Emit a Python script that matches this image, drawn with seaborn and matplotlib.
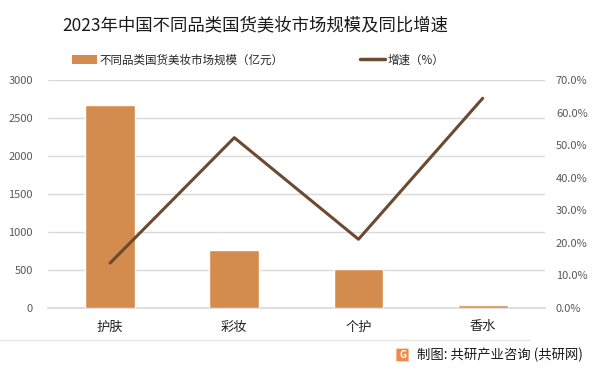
import matplotlib
matplotlib.use("Agg")
import matplotlib.pyplot as plt
import seaborn as sns
import pandas as pd
from matplotlib.lines import Line2D
from matplotlib.patches import Patch, FancyBboxPatch

categories = ["护肤", "彩妆", "个护", "香水"]
market_size = [2670, 763, 513, 40]
growth = [13.8, 52.3, 21.1, 64.4]
left_ticks = [0, 500, 1000, 1500, 2000, 2500, 3000]
right_ticks = [0, 10, 20, 30, 40, 50, 60, 70]

title = "2023年中国不同品类国货美妆市场规模及同比增速"
bar_label = "不同品类国货美妆市场规模（亿元）"
line_label = "增速（%）"
source = "制图: 共研产业咨询 (共研网)"

sns.set_theme(style="white")
plt.rcParams["font.family"] = ["Noto Sans CJK SC", "DejaVu Sans"]

bar_color = "#D48C4E"
line_color = "#6B4A2F"
grid_color = "#D9D9D9"
tick_color = "#595959"

df = pd.DataFrame({"cat": categories, "size": market_size, "growth": growth})

fig = plt.figure(figsize=(6, 3.74), dpi=100)
ax = fig.add_axes([0.08, 0.1765, 0.828, 0.6095])

sns.barplot(data=df, x="cat", y="size", ax=ax, color=bar_color, width=0.4,
            saturation=1, zorder=3)
ax.set_ylim(0, 3000)
ax.set_yticks(left_ticks)
ax.set_yticklabels([str(t) for t in left_ticks])
ax.set_xlim(-0.5, 3.5)
ax.grid(axis="y", color=grid_color, linewidth=1, zorder=0)
ax.set_axisbelow(True)
for s in ["top", "right", "left"]:
    ax.spines[s].set_visible(False)
ax.spines["bottom"].set_color(grid_color)
ax.set_xlabel("")
ax.set_ylabel("")
ax.tick_params(axis="y", length=0, labelsize=8, labelcolor=tick_color, pad=11)
ax.tick_params(axis="x", length=0, labelsize=9.5, labelcolor="#222222", pad=9)

ax2 = ax.twinx()
sns.lineplot(x=list(range(len(categories))), y=growth, ax=ax2, color=line_color,
             linewidth=2.2, sort=False, zorder=4)
ax2.set_ylim(0, 70)
ax2.set_yticks(right_ticks)
ax2.set_yticklabels([f"{t:.1f}%" for t in right_ticks])
ax2.tick_params(axis="y", length=0, labelsize=8, labelcolor=tick_color, pad=8)
for s in ["top", "right", "left", "bottom"]:
    ax2.spines[s].set_visible(False)
ax2.set_ylabel("")
ax2.set_xlim(-0.5, 3.5)

fig.text(255 / 600, 1 - 25 / 374, title, ha="center", va="center",
         fontsize=12.5, color="#1a1a1a")

handles = [Patch(facecolor=bar_color, edgecolor="none"),
           Line2D([0], [0], color=line_color, linewidth=2.5)]
fig.legend(handles, [bar_label, line_label], loc="center left",
           bbox_to_anchor=(72 / 600, 1 - 60 / 374), ncol=2, frameon=False,
           fontsize=8.3, handlelength=2.2, handleheight=0.7, handletextpad=0.2,
           columnspacing=6.6, borderaxespad=0, borderpad=0)

fig.add_artist(Line2D([0, 530 / 600], [1 - 340 / 374, 1 - 340 / 374],
                      color="#E6E6E6", linewidth=1, transform=fig.transFigure))

fig.add_artist(FancyBboxPatch((397 / 600, 1 - 361 / 374), 11 / 600, 12 / 374,
                              boxstyle="round,pad=0.001", facecolor="#F08A4B",
                              edgecolor="none", transform=fig.transFigure))
fig.text(402.5 / 600, 1 - 355 / 374, "G", ha="center", va="center",
         fontsize=7, color="white", fontweight="bold")
fig.text(417 / 600, 1 - 355 / 374, source, ha="left", va="center",
         fontsize=9.6, color="#1a1a1a")

fig.savefig("out.png", dpi=100)
